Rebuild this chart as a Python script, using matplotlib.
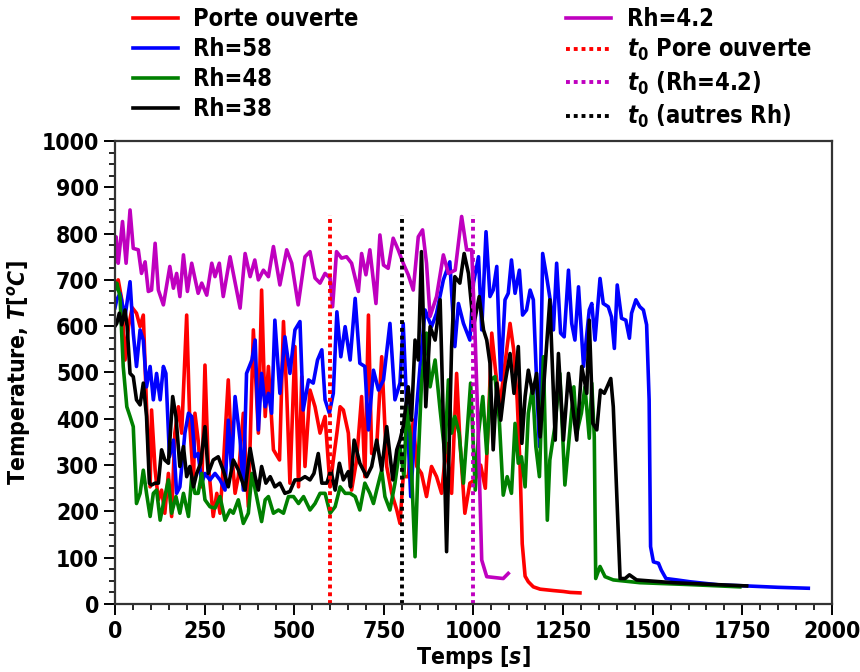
import matplotlib
matplotlib.use("Agg")
import matplotlib.pyplot as plt
from matplotlib.ticker import MultipleLocator

# ---------------- data ----------------
t_porte = [0, 9, 19, 28, 38, 48, 60, 70, 79, 88, 98, 102, 112, 121, 130, 139, 149, 158, 167, 177,
           186, 200, 209, 219, 223, 232, 242, 251, 260, 274, 284, 293, 302, 316, 325, 335, 344, 358,
           372, 386, 400, 409, 419, 428, 442, 459, 470, 479, 488, 502, 512, 521, 530, 544, 558, 572,
           586, 600, 609, 619, 628, 637, 651, 660, 674, 688, 697, 707, 716, 730, 744, 758, 772, 786,
           795, 804, 818, 832, 842, 855, 869, 883, 897, 911, 925, 939, 953, 962, 976, 990, 1004,
           1020, 1033, 1043, 1051, 1062, 1074, 1088, 1102, 1112, 1122, 1130, 1136, 1144, 1153, 1167,
           1186, 1223, 1251, 1270, 1297]
T_porte = [690, 700, 657, 527, 600, 640, 628, 599, 624, 426, 253, 419, 289, 225, 246, 196, 282, 189, 369, 426,
           369, 624, 383, 261, 412, 354, 253, 516, 304, 189, 239, 196, 297, 484, 333, 239, 275, 412,
           210, 592, 369, 678, 405, 513, 333, 311, 610, 455, 261, 556, 253, 491, 297, 462, 426, 369,
           405, 253, 311, 369, 426, 419, 369, 246, 311, 448, 275, 624, 325, 340, 534, 297, 239, 203,
           174, 275, 275, 397, 297, 282, 232, 297, 275, 239, 347, 239, 498, 354, 196, 261, 268,
           300, 250, 420, 585, 500, 430, 520, 606, 550, 440, 297, 130, 60, 48, 37,
           32, 29, 27, 25, 24]

t_rh58 = [0, 5, 14, 28, 42, 51, 60, 70, 79, 88, 98, 107, 116, 126, 135, 142, 152, 163, 172, 181, 195,
          205, 214, 223, 232, 242, 251, 265, 279, 293, 307, 316, 325, 335, 349, 358, 367, 382, 391,
          400, 409, 419, 428, 437, 446, 460, 474, 488, 502, 516, 525, 540, 553, 565, 577, 586, 598,
          609, 619, 630, 642, 656, 670, 683, 697, 707, 721, 735, 749, 767, 781, 795, 804, 813, 825,
          837, 851, 865, 883, 897, 916, 934, 948, 958, 972, 990, 1000, 1014, 1023, 1035, 1046, 1055,
          1065, 1076, 1088, 1097, 1106, 1116, 1128, 1137, 1148, 1158, 1167, 1176, 1184, 1193, 1204,
          1214, 1223, 1232, 1243, 1253, 1265, 1274, 1283, 1293, 1307, 1323, 1330, 1339, 1353, 1362,
          1376, 1385, 1393, 1401, 1413, 1425, 1435, 1441, 1453, 1464, 1474, 1483, 1490, 1494, 1502,
          1516, 1524, 1537, 1567, 1604, 1688, 1762, 1850, 1934]
T_rh58 = [640, 657, 671, 621, 696, 585, 513, 592, 570, 469, 513, 441, 498, 441, 513, 498, 318, 354, 239, 253, 369,
          412, 405, 318, 325, 261, 282, 268, 282, 268, 246, 397, 290, 448, 354, 246, 498, 527, 570,
          376, 498, 426, 455, 412, 613, 455, 577, 498, 592, 610, 419, 484, 477, 527, 549, 441, 412,
          455, 631, 534, 599, 527, 660, 520, 513, 376, 505, 462, 484, 606, 441, 477, 606, 441, 232,
          383, 513, 635, 599, 628, 700, 739, 556, 649, 606, 570, 693, 750, 592, 804, 664, 678,
          729, 484, 657, 671, 743, 671, 721, 624, 635, 678, 657, 484, 340, 757, 707,
          657, 592, 736, 585, 577, 721, 606, 570, 685, 513, 635, 649, 570, 703, 649,
          642, 620, 552, 689, 617, 613, 574, 628, 657, 642, 635, 603, 441, 124, 91,
          88, 73, 55, 52, 48, 41, 39, 36, 34]

t_rh48 = [0, 5, 14, 23, 33, 42, 51, 60, 70, 79, 88, 98, 107, 116, 126, 137, 149, 158, 170, 181, 191,
          205, 214, 223, 232, 242, 251, 265, 279, 293, 307, 321, 330, 344, 358, 372, 382, 395, 409,
          419, 428, 442, 456, 470, 484, 498, 512, 526, 544, 558, 572, 586, 600, 614, 628, 642, 656,
          670, 683, 697, 711, 721, 730, 744, 753, 767, 781, 795, 806, 814, 823, 837, 846, 855, 869,
          879, 893, 907, 920, 930, 939, 948, 960, 972, 982, 992, 1005, 1014, 1026, 1037, 1048, 1060,
          1072, 1083, 1094, 1106, 1116, 1125, 1134, 1144, 1153, 1165, 1174, 1184, 1195, 1206, 1213,
          1227, 1241, 1255, 1269, 1280, 1288, 1301, 1311, 1323, 1330, 1337, 1341, 1353, 1367, 1390,
          1464, 1600, 1743]
T_rh48 = [680, 693, 664, 513, 426, 405, 383, 217, 239, 289, 239, 189, 239, 246, 181, 225, 268, 196, 232, 196, 239,
          189, 275, 239, 239, 282, 225, 210, 207, 232, 181, 203, 196, 225, 174, 196, 282, 232, 178,
          225, 232, 196, 203, 196, 232, 232, 217, 232, 203, 217, 239, 239, 196, 210, 253, 239, 239,
          232, 203, 261, 239, 217, 246, 289, 232, 203, 261, 340, 275, 426, 369, 102, 311, 477, 585,
          469, 527, 419, 325, 484, 369, 405, 369, 261, 369, 477, 246, 369, 448, 325, 484, 491,
          397, 235, 275, 239, 390, 304, 318, 253, 412, 469, 340, 275, 534, 181, 311,
          383, 498, 257, 376, 469, 369, 412, 469, 358, 477, 361, 55, 81, 59, 52,
          46, 42, 37]

t_rh38 = [0, 5, 12, 19, 28, 34, 42, 51, 60, 70, 79, 88, 96, 102, 112, 121, 130, 139, 149, 161, 170,
          181, 191, 200, 209, 219, 228, 239, 251, 260, 274, 288, 302, 316, 330, 344, 363, 377, 391,
          400, 409, 421, 433, 446, 460, 474, 488, 502, 516, 530, 544, 555, 567, 577, 591, 602, 614,
          626, 637, 651, 657, 667, 683, 702, 716, 730, 744, 758, 775, 786, 795, 804, 818, 827, 837,
          846, 855, 867, 879, 893, 907, 918, 925, 939, 948, 962, 974, 986, 1000, 1016, 1028, 1037,
          1046, 1055, 1065, 1076, 1088, 1102, 1113, 1125, 1135, 1144, 1153, 1165, 1176, 1186, 1200,
          1213, 1228, 1237, 1251, 1265, 1279, 1288, 1302, 1316, 1323, 1333, 1344, 1354, 1365, 1383,
          1390, 1400, 1409, 1423, 1435, 1455, 1557, 1762]
T_rh38 = [600, 606, 628, 603, 635, 599, 498, 491, 441, 430, 477, 405, 261, 257, 261, 261, 333, 311, 304, 448, 405,
          297, 340, 275, 297, 253, 282, 304, 383, 282, 311, 318, 289, 253, 311, 290, 246, 336, 275,
          246, 297, 261, 275, 253, 261, 239, 243, 268, 268, 275, 268, 282, 325, 261, 261, 289, 246,
          304, 268, 286, 253, 354, 304, 275, 297, 354, 289, 383, 268, 333, 354, 383, 469, 397, 570,
          527, 761, 426, 599, 570, 657, 333, 113, 556, 707, 693, 757, 714, 599, 664, 592, 570,
          520, 333, 477, 397, 477, 541, 455, 556, 347, 448, 505, 455, 498, 361, 513,
          657, 354, 541, 354, 498, 412, 354, 513, 455, 613, 390, 376, 462, 455, 487,
          426, 232, 55, 55, 63, 52, 46, 39]

t_rh42 = [0, 3, 9, 21, 31, 42, 51, 65, 74, 84, 93, 102, 112, 121, 135, 153, 163, 172, 181, 191, 202,
          214, 232, 242, 256, 270, 279, 291, 302, 321, 349, 363, 377, 390, 400, 414, 428, 442, 460,
          479, 493, 511, 530, 544, 558, 572, 586, 600, 607, 618, 632, 646, 660, 679, 688, 700, 711,
          728, 739, 749, 762, 776, 790, 804, 818, 832, 846, 858, 869, 879, 897, 916, 930, 949, 967,
          981, 995, 1004, 1013, 1023, 1037, 1083, 1097]
T_rh42 = [740, 793, 736, 826, 736, 851, 768, 765, 714, 739, 675, 678, 779, 678, 646, 729, 682, 714, 664, 754, 675,
          736, 671, 693, 667, 736, 707, 736, 664, 750, 639, 757, 707, 743, 700, 721, 707, 772, 689,
          765, 736, 646, 750, 761, 704, 693, 714, 704, 642, 761, 747, 750, 736, 675, 757, 711, 765,
          649, 797, 732, 725, 790, 765, 736, 711, 678, 793, 808, 736, 621, 664, 754, 714, 721, 837,
          765, 765, 592, 376, 95, 59, 55, 66]

t0_porte = 600
t0_rh42 = 1000
t0_autres = 800
t0_top = 840

# ---------------- style ----------------
plt.rcParams.update({
    "font.family": "DejaVu Sans",
    "font.weight": "bold",
    "font.stretch": "condensed",
    "font.size": 16,
    "mathtext.fontset": "custom",
    "mathtext.rm": "DejaVu Sans:bold",
    "mathtext.it": "DejaVu Sans:italic:bold",
    "mathtext.bf": "DejaVu Sans:bold",
    "axes.linewidth": 1.6,
})

fig = plt.figure(figsize=(8.6, 6.72), dpi=100)
ax = fig.add_axes([0.1337, 0.1012, 0.8337, 0.6890])

lw = 2.6
ax.plot(t_porte, T_porte, color="#ff0000", lw=lw, label="Porte ouverte")
ax.plot(t_rh58, T_rh58, color="#0000ff", lw=lw, label="Rh=58")
ax.plot(t_rh48, T_rh48, color="#008000", lw=lw, label="Rh=48")
ax.plot(t_rh38, T_rh38, color="#000000", lw=lw, label="Rh=38")
ax.plot(t_rh42, T_rh42, color="#bf00bf", lw=lw, label="Rh=4.2")

dots = (0, (1, 1))
ax.plot([t0_porte, t0_porte], [0, t0_top], color="#ff0000", lw=2.8, ls=dots, label=r"$t_0$ Pore ouverte")
ax.plot([t0_rh42, t0_rh42], [0, t0_top], color="#bf00bf", lw=2.8, ls=dots, label=r"$t_0$ (Rh=4.2)")
ax.plot([t0_autres, t0_autres], [0, t0_top], color="#000000", lw=2.8, ls=dots, label=r"$t_0$ (autres Rh)")

ax.set_xlim(0, 2000)
ax.set_ylim(0, 1000)
ax.xaxis.set_major_locator(MultipleLocator(250))
ax.xaxis.set_minor_locator(MultipleLocator(50))
ax.yaxis.set_major_locator(MultipleLocator(100))
ax.yaxis.set_minor_locator(MultipleLocator(25))
ax.tick_params(which="major", length=8, width=1.4, labelsize=16.5)
ax.tick_params(which="minor", length=4, width=1.2)
for s in ax.spines.values():
    s.set_color("#333333")

ax.set_xlabel(r"Temps $[s]$", fontsize=16.5, fontweight="bold", labelpad=1)
ax.set_ylabel(r"Temperature, $T[^oC]$", fontsize=16.5, fontweight="bold", labelpad=6)

leg = fig.legend(*ax.get_legend_handles_labels(), ncol=2, loc="upper left",
                 bbox_to_anchor=(133 / 860, 1 - 7 / 672), bbox_transform=fig.transFigure,
                 frameon=False, fontsize=17, handlelength=1.9, handletextpad=0.65,
                 labelspacing=0.26, columnspacing=8.8, borderpad=0.0, borderaxespad=0.0)

fig.savefig("out.png", dpi=100)
